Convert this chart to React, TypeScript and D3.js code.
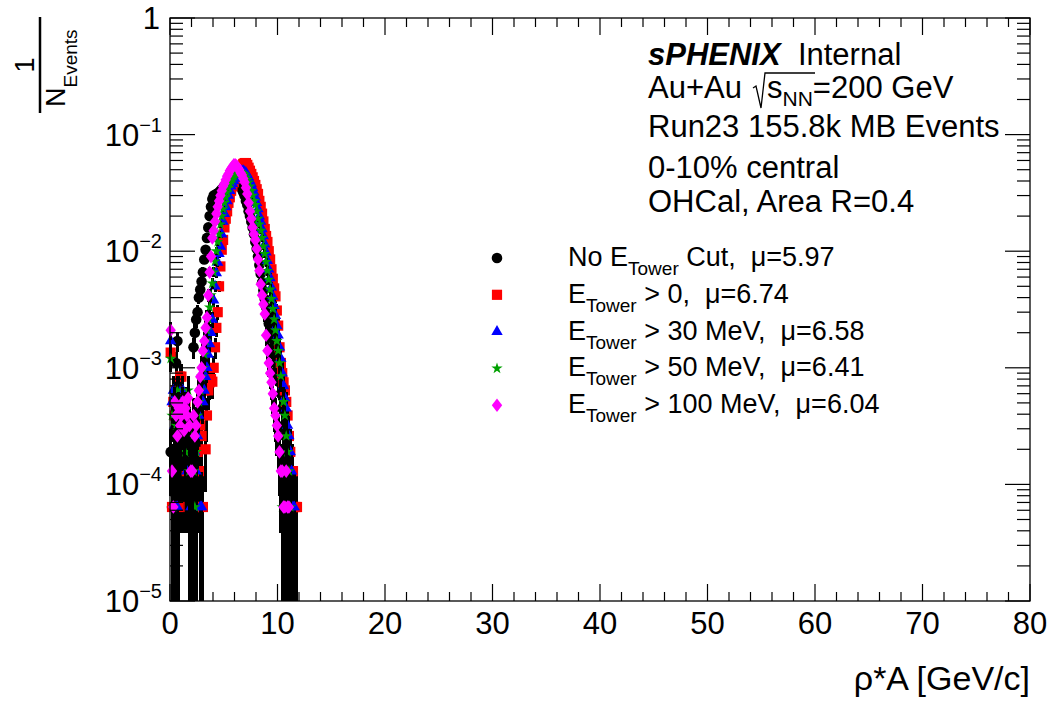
import React from 'react';
import * as d3 from 'd3';

// histogram binning (GeV/c) and normalisation (0-10% of 155.8k MB events)
const BIN_WIDTH = 0.125;
const N_EVENTS = 15580;

const xTicks = [0, 10, 20, 30, 40, 50, 60, 70, 80];
const yDecades = [-5, -4, -3, -2, -1, 0];

// 1/N_Events per bin, bins of 0.125 GeV/c starting at 0 (one row = 1 GeV/c)
const noCutVals = [
  1.9e-4, 6.4e-5, 6.4e-5, 1.3e-4, 1.1e-3, 1.7e-3, 1.3e-4, 1.3e-4,
  1.3e-4, 1.9e-4, 1.3e-4, 2.6e-4, 1.3e-4, 1.9e-4, 1.3e-4, 1.3e-4,
  6.4e-5, 1.5e-3, 2.0e-3, 2.6e-3, 3.0e-3, 4.0e-3, 4.7e-3, 5.5e-3,
  6.6e-3, 8.5e-3, 0.0103, 0.013, 0.016, 0.02, 0.024, 0.028,
  0.03, 0.03, 0.031, 0.031, 0.032, 0.033, 0.034, 0.035,
  0.036, 0.037, 0.038, 0.039, 0.04, 0.04, 0.041, 0.041,
  0.041, 0.041, 0.04, 0.038, 0.036, 0.034, 0.032, 0.03,
  0.027, 0.025, 0.022, 0.02, 0.018, 0.016, 0.014, 0.012,
  0.0105, 0.009, 0.0076, 0.0064, 0.0054, 0.0046, 0.0039, 0.0033,
  0.0028, 0.0024, 0.0021, 0.0018, 0.0015, 0.0013, 0.0011, 9.5e-4,
  8.5e-4, 7.5e-4, 6.0e-4, 4.5e-4, 3.2e-4, 2.6e-4, 1.9e-4, 1.3e-4,
  1.3e-4, 6.4e-5, 6.4e-5, 6.4e-5, 0, 6.4e-5, 0, 0,
];
const gt0Vals = [
  1.35e-3, 6.4e-5, 5.1e-4, 3.9e-4, 6.4e-4, 2.6e-4, 6.4e-5, 8.4e-4,
  8.4e-4, 3.9e-4, 2.6e-4, 5.1e-4, 1.3e-4, 2.6e-4, 6.4e-5, 1.9e-4,
  6.4e-5, 1.3e-4, 6.4e-5, 6.4e-5, 1.9e-4, 1.3e-4, 3.2e-4, 2.6e-4,
  6.4e-5, 6.4e-4, 2.0e-4, 3.9e-4, 6.4e-4, 7.5e-4, 8.0e-4, 7.6e-4,
  1.0e-3, 1.5e-3, 2.2e-3, 3.0e-3, 5.0e-3, 7.4e-3, 0.0103, 0.0125,
  0.016, 0.019, 0.022, 0.026, 0.029, 0.033, 0.036, 0.039,
  0.042, 0.045, 0.048, 0.05, 0.052, 0.054, 0.056, 0.057,
  0.057, 0.055, 0.052, 0.049, 0.046, 0.043, 0.04, 0.037,
  0.034, 0.031, 0.027, 0.024, 0.021, 0.018, 0.0155, 0.0135,
  0.012, 0.01, 0.0085, 0.007, 0.0058, 0.0048, 0.0041, 0.0031,
  0.0023, 0.0015, 0.0011, 9.0e-4, 7.5e-4, 6.4e-4, 5.1e-4, 3.9e-4,
  2.6e-4, 1.9e-4, 1.3e-4, 1.3e-4, 6.4e-5, 6.4e-5, 6.4e-5, 0,
];
const gt30Vals = [
  1.7e-3, 5.1e-4, 6.4e-4, 3.2e-4, 6.4e-5, 6.4e-5, 6.4e-4, 3.9e-4,
  5.1e-4, 6.4e-4, 2.6e-4, 3.9e-4, 1.3e-4, 2.6e-4, 1.9e-4, 6.4e-5,
  1.3e-4, 6.4e-5, 1.9e-4, 1.3e-4, 2.6e-4, 3.9e-4, 6.4e-5, 6.4e-5,
  5.1e-4, 6.4e-4, 8.4e-4, 1.0e-3, 1.3e-3, 1.6e-3, 2.0e-3, 2.6e-3,
  3.8e-3, 5.0e-3, 6.5e-3, 8.0e-3, 9.5e-3, 0.011, 0.014, 0.018,
  0.021, 0.024, 0.027, 0.03, 0.033, 0.036, 0.038, 0.04,
  0.042, 0.044, 0.046, 0.047, 0.048, 0.049, 0.049, 0.048,
  0.047, 0.045, 0.043, 0.04, 0.038, 0.035, 0.032, 0.029,
  0.026, 0.023, 0.02, 0.018, 0.0155, 0.0135, 0.0115, 0.0098,
  0.0083, 0.007, 0.0059, 0.0049, 0.0041, 0.0034, 0.0028, 0.0023,
  0.0019, 0.0015, 0.0012, 9.0e-4, 7.0e-4, 5.5e-4, 4.5e-4, 3.2e-4,
  2.6e-4, 1.9e-4, 1.3e-4, 6.4e-5, 6.4e-5, 0, 0, 0,
];
const gt50Vals = [
  1.2e-3, 3.9e-4, 6.4e-5, 5.1e-4, 3.2e-4, 6.4e-4, 2.6e-4, 3.9e-4,
  2.6e-4, 5.1e-4, 3.9e-4, 1.9e-4, 3.2e-4, 6.4e-4, 1.3e-4, 2.6e-4,
  1.9e-4, 1.3e-4, 6.4e-5, 1.9e-4, 3.9e-4, 5.1e-4, 6.4e-4, 8.4e-4,
  1.0e-3, 1.3e-3, 1.7e-3, 2.1e-3, 2.6e-3, 3.3e-3, 4.2e-3, 5.3e-3,
  6.6e-3, 8.2e-3, 0.01, 0.012, 0.014, 0.017, 0.02, 0.023,
  0.026, 0.029, 0.032, 0.035, 0.038, 0.04, 0.042, 0.044,
  0.046, 0.047, 0.048, 0.048, 0.048, 0.047, 0.046, 0.045,
  0.043, 0.041, 0.039, 0.036, 0.033, 0.03, 0.027, 0.025,
  0.022, 0.019, 0.017, 0.015, 0.013, 0.011, 0.0095, 0.0081,
  0.0068, 0.0057, 0.0047, 0.0039, 0.0032, 0.0026, 0.0021, 0.0017,
  0.0014, 0.0011, 8.5e-4, 6.4e-5, 5.1e-4, 3.9e-4, 2.6e-4, 1.9e-4,
  1.3e-4, 6.4e-5, 0, 0, 0, 0, 0, 0,
];
const gt100Vals = [
  2.1e-3, 1.3e-4, 6.4e-5, 5.1e-4, 3.9e-4, 2.6e-4, 4.5e-4, 3.2e-4,
  3.9e-4, 5.1e-4, 2.9e-4, 4.5e-4, 3.9e-4, 5.5e-4, 3.2e-4, 1.3e-4,
  1.3e-4, 3.9e-4, 2.6e-4, 3.2e-4, 5.1e-4, 6.4e-4, 8.4e-4, 1.0e-3,
  1.4e-3, 1.7e-3, 2.2e-3, 2.7e-3, 4.2e-3, 6.6e-3, 9.0e-3, 0.013,
  0.015, 0.018, 0.021, 0.024, 0.027, 0.03, 0.033, 0.036,
  0.038, 0.041, 0.044, 0.046, 0.049, 0.051, 0.053, 0.055,
  0.055, 0.054, 0.052, 0.05, 0.047, 0.045, 0.042, 0.039,
  0.035, 0.031, 0.026, 0.022, 0.019, 0.016, 0.014, 0.0125,
  0.0105, 0.0085, 0.0068, 0.0052, 0.0042, 0.0035, 0.0029, 0.0019,
  0.0014, 0.0011, 9.0e-4, 7.5e-4, 6.0e-4, 4.5e-4, 3.9e-4, 3.2e-4,
  2.6e-4, 1.9e-4, 1.3e-4, 1.3e-4, 6.4e-5, 6.4e-5, 1.3e-4, 6.4e-5,
  6.4e-5, 0, 0, 0, 0, 0, 0, 0,
];

const legendLabels = [
  { pre: 'No E', sub: 'Tower', post: ' Cut,  μ=5.97' },
  { pre: 'E', sub: 'Tower', post: ' > 0,  μ=6.74' },
  { pre: 'E', sub: 'Tower', post: ' > 30 MeV,  μ=6.58' },
  { pre: 'E', sub: 'Tower', post: ' > 50 MeV,  μ=6.41' },
  { pre: 'E', sub: 'Tower', post: ' > 100 MeV,  μ=6.04' },
];

const markerPaths = {
  circle: d3.symbol(d3.symbolCircle, 88)(),
  square: d3.symbol(d3.symbolSquare, 104)(),
  triangle: d3.symbol(d3.symbolTriangle, 56)(),
  star: d3.symbol(d3.symbolStar, 40)(),
  diamond: 'M0,-6.8L5.2,0L0,6.8L-5.2,0Z',
};

const series = [
  { values: noCutVals, color: '#000000', marker: markerPaths.circle },
  { values: gt0Vals, color: '#ff0000', marker: markerPaths.square },
  { values: gt30Vals, color: '#0000ff', marker: markerPaths.triangle },
  { values: gt50Vals, color: '#00a000', marker: markerPaths.star },
  { values: gt100Vals, color: '#ff00ff', marker: markerPaths.diamond },
];

const W = 1051;
const H = 703;
const margin = { top: 18, right: 21, bottom: 102, left: 170 };
const FONT = '"Liberation Sans", Arial, Helvetica, sans-serif';

export default function App() {
  const x = d3.scaleLinear().domain([0, 80]).range([margin.left, W - margin.right]);
  const y = d3.scaleLog().domain([1e-5, 1]).range([H - margin.bottom, margin.top]);
  const [x0, x1] = x.range();
  const [yb, yt] = y.range();

  const xMinor = d3.range(0, 81, 2).filter(v => v % 10 !== 0);
  const yMinor = [];
  yDecades.slice(0, -1).forEach(d => {
    for (let k = 2; k <= 9; k++) yMinor.push(k * Math.pow(10, d));
  });

  return (
    <svg width={W} height={H} style={{ position: 'absolute', left: 0, top: 0, background: '#fff' }}
      fontFamily={FONT}>
      <rect x={0} y={0} width={W} height={H} fill="#fff" />

      {/* data: each histogram draws its (black) error bars, then its markers */}
      {series.map((s, si) => (
        <g key={si}>
          {s.values.map((v, i) => {
            if (v <= 0) return null;
            const cx = x(BIN_WIDTH * (i + 0.5));
            const err = Math.sqrt(v / N_EVENTS);
            const lo = v - err > 1e-5 ? y(v - err) : yb;
            const hi = y(Math.min(v + err, 1));
            return (
              <line key={i} x1={cx} x2={cx} y1={lo} y2={hi} stroke="#000"
                strokeWidth={3} shapeRendering="crispEdges" />
            );
          })}
          {s.values.map((v, i) => v > 0 ? (
            <path key={'m' + i} d={s.marker}
              transform={`translate(${x(BIN_WIDTH * (i + 0.5))},${y(v)})`} fill={s.color} />
          ) : null)}
        </g>
      ))}

      {/* frame */}
      <rect x={x0} y={yt} width={x1 - x0} height={yb - yt} fill="none" stroke="#000" strokeWidth={1.3} />

      {/* x ticks (bottom + top) */}
      {xTicks.map(t => (
        <g key={'xt' + t}>
          <line x1={x(t)} x2={x(t)} y1={yb} y2={yb - 17} stroke="#000" strokeWidth={1.2} />
          <line x1={x(t)} x2={x(t)} y1={yt} y2={yt + 17} stroke="#000" strokeWidth={1.2} />
          <text x={x(t)} y={634} textAnchor="middle" fontSize={31}>{t}</text>
        </g>
      ))}
      {xMinor.map(t => (
        <g key={'xm' + t}>
          <line x1={x(t)} x2={x(t)} y1={yb} y2={yb - 9} stroke="#000" strokeWidth={1.2} />
          <line x1={x(t)} x2={x(t)} y1={yt} y2={yt + 9} stroke="#000" strokeWidth={1.2} />
        </g>
      ))}

      {/* y ticks (left + right) */}
      {yDecades.map(d => {
        const v = Math.pow(10, d);
        return (
          <g key={'yt' + d}>
            <line x1={x0} x2={x0 + 25} y1={y(v)} y2={y(v)} stroke="#000" strokeWidth={1.2} />
            <line x1={x1} x2={x1 - 25} y1={y(v)} y2={y(v)} stroke="#000" strokeWidth={1.2} />
            {d === 0 ? (
              <text x={160} y={y(v) + 11} textAnchor="end" fontSize={31}>1</text>
            ) : (
              <text x={162} y={y(v) + 11} textAnchor="end" fontSize={31}>
                10<tspan dy={-14} fontSize={20}>{'\u2212' + -d}</tspan>
              </text>
            )}
          </g>
        );
      })}
      {yMinor.map((v, i) => (
        <g key={'ym' + i}>
          <line x1={x0} x2={x0 + 13} y1={y(v)} y2={y(v)} stroke="#000" strokeWidth={1.2} />
          <line x1={x1} x2={x1 - 13} y1={y(v)} y2={y(v)} stroke="#000" strokeWidth={1.2} />
        </g>
      ))}

      {/* axis titles */}
      <text x={x1} y={690} textAnchor="end" fontSize={34}>ρ*A [GeV/c]</text>
      <g transform="translate(40,65) rotate(-90)">
        <line x1={-48} x2={48} y1={0} y2={0} stroke="#000" strokeWidth={2.5} />
        <text x={0} y={-6} textAnchor="middle" fontSize={27}>1</text>
        <text x={-42} y={25} fontSize={27}>
          N<tspan dy={12} fontSize={19}>Events</tspan>
        </text>
      </g>

      {/* info text */}
      <g fontSize={31}>
        <text x={648} y={65} xmlSpace="preserve" style={{ whiteSpace: 'pre' }}>
          <tspan fontWeight="bold" fontStyle="italic">sPHENIX</tspan>{'  Internal'}
        </text>
        <text x={648} y={98}>Au+Au</text>
        <path d="M753,88 L756,86 L761,108 L765,73 L815,73" fill="none" stroke="#000" strokeWidth={1.3} />
        <text x={767} y={98}>s<tspan dy={8} fontSize={21}>NN</tspan><tspan dy={-8}>=200 GeV</tspan></text>
        <text x={648} y={137}>Run23 155.8k MB Events</text>
        <text x={648} y={178}>0-10% central</text>
        <text x={648} y={212}>OHCal, Area R=0.4</text>
      </g>

      {/* legend */}
      {series.map((s, i) => {
        const base = 266 + i * 36.8;
        const lab = legendLabels[i];
        return (
          <g key={'lg' + i}>
            <path d={s.marker} transform={`translate(497,${base - 8})`} fill={s.color} />
            <text x={568} y={base} fontSize={27} xmlSpace="preserve" style={{ whiteSpace: 'pre' }}>
              {lab.pre}<tspan dy={9} fontSize={19}>{lab.sub}</tspan><tspan dy={-9}>{lab.post}</tspan>
            </text>
          </g>
        );
      })}
    </svg>
  );
}
